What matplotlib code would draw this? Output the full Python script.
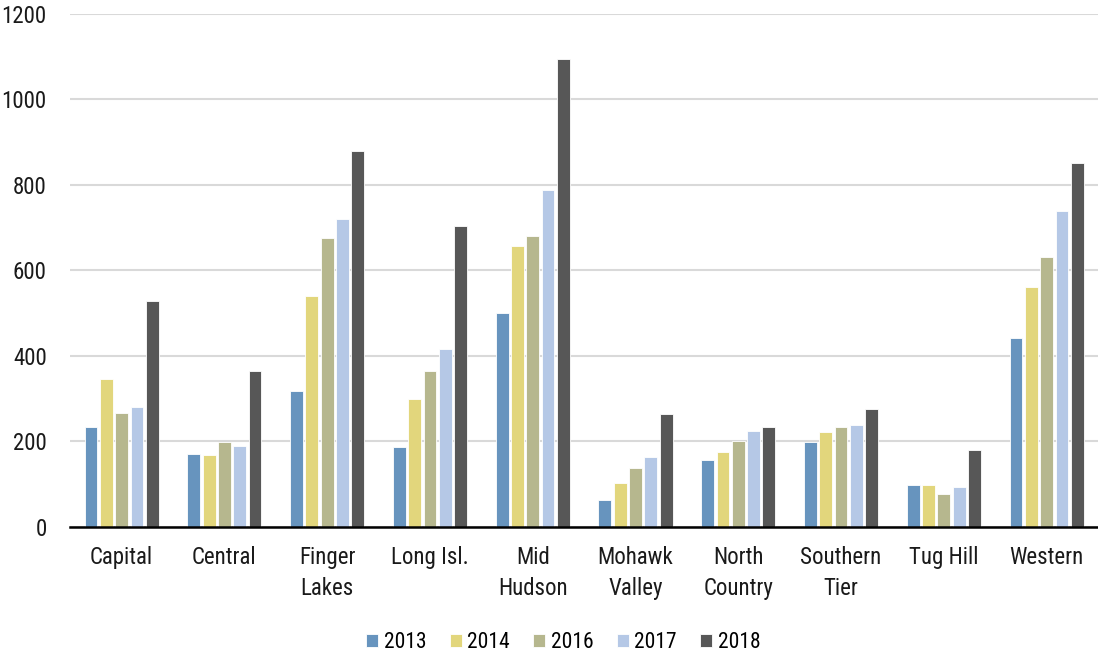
import matplotlib
matplotlib.use("Agg")
import matplotlib.pyplot as plt
import numpy as np

REGIONS = ["Capital", "Central", "Finger\nLakes", "Long Isl.", "Mid\nHudson",
           "Mohawk\nValley", "North\nCountry", "Southern\nTier", "Tug Hill", "Western"]
YEARS = ["2013", "2014", "2016", "2017", "2018"]

V2013 = [234, 171, 319, 186, 501, 62, 157, 198, 99, 442]
V2014 = [345, 168, 539, 300, 657, 102, 176, 221, 97, 561]
V2016 = [267, 198, 676, 365, 681, 139, 200, 233, 76, 632]
V2017 = [281, 189, 720, 415, 787, 163, 224, 239, 94, 738]
V2018 = [529, 364, 880, 703, 1094, 264, 234, 275, 179, 851]

COLORS = ["#6794be", "#e2d67c", "#b6b78e", "#b5c8e6", "#575757"]

plt.rcParams["font.family"] = ["Roboto Condensed", "Roboto", "DejaVu Sans"]

fig = plt.figure(figsize=(10.98, 6.53), dpi=100)
ax = fig.add_axes([0.064, 0.193, 0.936, 0.786])

x = np.arange(len(REGIONS))
pitch = 0.149
width = 0.125
series = [V2013, V2014, V2016, V2017, V2018]
for i, (vals, year, col) in enumerate(zip(series, YEARS, COLORS)):
    ax.bar(x + (i - 2) * pitch, vals, width, color=col, edgecolor="white",
           linewidth=0.6, label=year, zorder=3)

ax.set_xlim(-0.5, len(REGIONS) - 0.5)
ax.set_ylim(0, 1200)
ax.set_yticks(range(0, 1201, 200))
ax.yaxis.grid(True, color="#d9d9d9", linewidth=1.5, zorder=0)
ax.set_axisbelow(True)
for s in ["top", "right", "left"]:
    ax.spines[s].set_visible(False)
ax.spines["bottom"].set_color("black")
ax.spines["bottom"].set_linewidth(1.8)
ax.spines["bottom"].set_zorder(4)
ax.tick_params(axis="both", length=0, labelsize=16.5, colors="#1a1a1a")
ax.tick_params(axis="y", pad=17)
ax.tick_params(axis="x", pad=14)
ax.set_xticks(x)
ax.set_xticklabels(REGIONS, linespacing=1.4)

fig.legend(loc="lower center", bbox_to_anchor=(0.513, -0.03), ncol=5,
           frameon=False, fontsize=15.5, handlelength=0.55, handleheight=0.55,
           handletextpad=0.25, columnspacing=1.1)

fig.savefig("out.png", dpi=100)
